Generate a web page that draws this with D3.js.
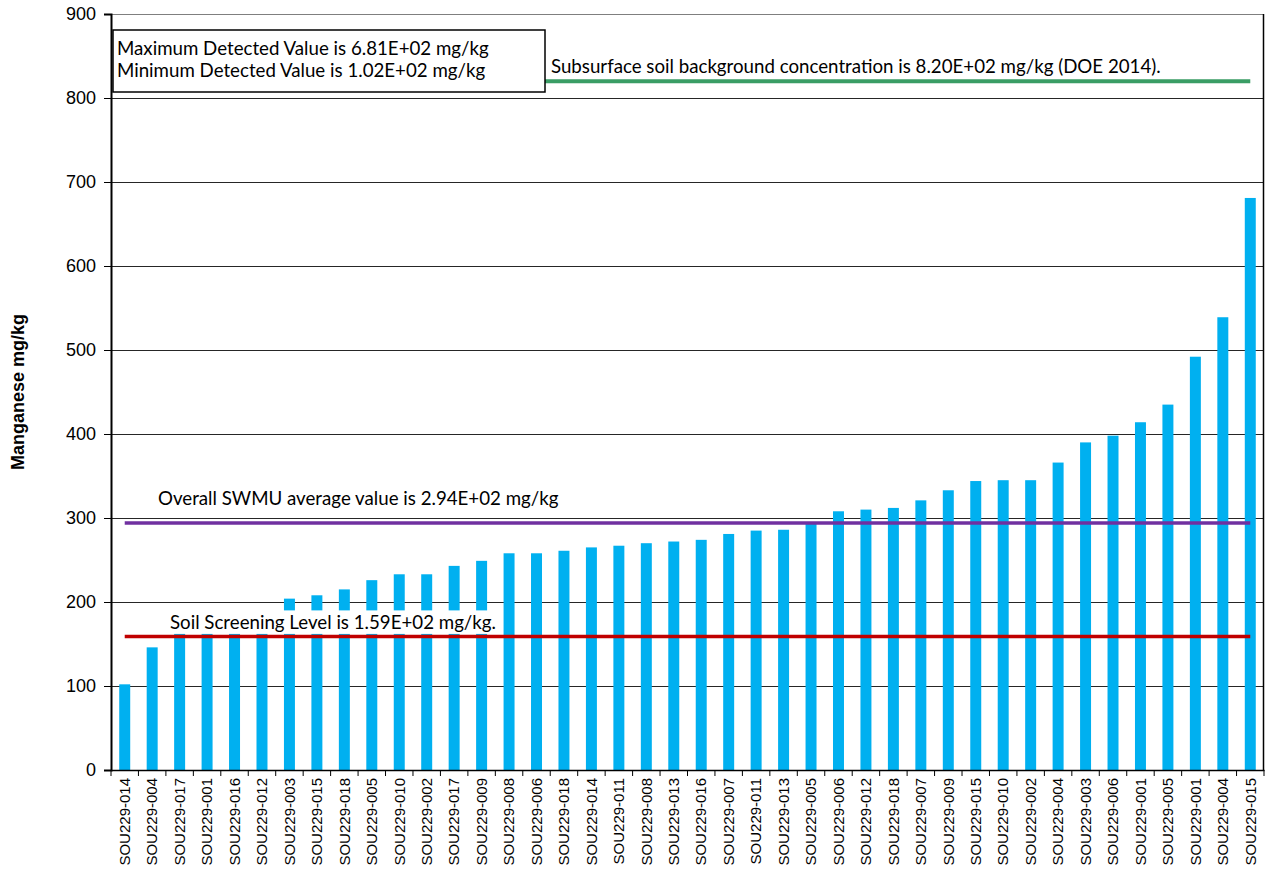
<!DOCTYPE html>
<html>
<head>
<meta charset="utf-8">
<script src="https://cdn.jsdelivr.net/npm/d3@7"></script>
<style>
  body { margin: 0; background: #fff; }
  svg { display: block; }
</style>
</head>
<body>
<div id="chart"></div>
<script>
// Sample locations, sorted by result
const locations = [
  "SOU229-014", "SOU229-004", "SOU229-017", "SOU229-001", "SOU229-016", "SOU229-012",
  "SOU229-003", "SOU229-015", "SOU229-018", "SOU229-005", "SOU229-010", "SOU229-002",
  "SOU229-017", "SOU229-009", "SOU229-008", "SOU229-006", "SOU229-018", "SOU229-014",
  "SOU229-011", "SOU229-008", "SOU229-013", "SOU229-016", "SOU229-007", "SOU229-011",
  "SOU229-013", "SOU229-005", "SOU229-006", "SOU229-012", "SOU229-018", "SOU229-007",
  "SOU229-009", "SOU229-015", "SOU229-010", "SOU229-002", "SOU229-004", "SOU229-003",
  "SOU229-006", "SOU229-001", "SOU229-005", "SOU229-001", "SOU229-004", "SOU229-015"
];

// Manganese results (mg/kg)
const results = [
  102, 146, 166, 172, 178, 185,
  204, 208, 215, 226, 233, 233,
  243, 249, 258, 258, 261, 265,
  267, 270, 272, 274, 281, 285,
  286, 295, 308, 310, 312, 321,
  333, 344, 345, 345, 366, 390,
  398, 414, 435, 492, 539, 681
];

const yTicks = [0, 100, 200, 300, 400, 500, 600, 700, 800, 900];

// Reference lines
const backgroundLevel = 820;
const swmuAverage = 294;
const screeningLevel = 159;

const BAR_COLOR = "#00B0F0";
const BG_COLOR = "#3A9D65";
const AVG_COLOR = "#7030A0";
const SSL_COLOR = "#C00000";

const W = 1265, H = 870;
const margin = { top: 14, right: 1, bottom: 100, left: 111 };
const width = W - margin.left - margin.right;
const height = H - margin.top - margin.bottom;

const svg = d3.select("#chart").append("svg")
  .attr("width", W)
  .attr("height", H);

const g = svg.append("g")
  .attr("transform", `translate(${margin.left},${margin.top})`);

const x = d3.scaleBand()
  .domain(d3.range(locations.length))
  .range([0, width])
  .padding(0);

const y = d3.scaleLinear()
  .domain([0, 900])
  .range([height, 0]);

const barW = x.bandwidth() * 0.4;
const cx = i => x(i) + x.bandwidth() / 2;

// gridlines
g.append("g")
  .selectAll("line")
  .data(yTicks.filter(t => t > 0))
  .enter()
  .append("line")
  .attr("x1", 0)
  .attr("x2", width)
  .attr("y1", d => Math.round(y(d)) + 0.5)
  .attr("y2", d => Math.round(y(d)) + 0.5)
  .attr("stroke", d => d === 900 ? "#7f7f7f" : "#262626")
  .attr("stroke-width", 1);

// right border
g.append("line")
  .attr("x1", width - 0.5).attr("x2", width - 0.5)
  .attr("y1", 0).attr("y2", height)
  .attr("stroke", "#000").attr("stroke-width", 1.5);

// bars
g.append("g")
  .selectAll("rect")
  .data(results)
  .enter()
  .append("rect")
  .attr("x", (d, i) => cx(i) - barW / 2)
  .attr("y", d => y(d))
  .attr("width", barW)
  .attr("height", d => height - y(d))
  .attr("fill", BAR_COLOR);

const annoFont = "Lato, 'Open Sans', sans-serif";
const annoSize = "18.7px";

function refLine(value, color, sw) {
  g.append("line")
    .attr("x1", cx(0))
    .attr("x2", cx(results.length - 1))
    .attr("y1", y(value))
    .attr("y2", y(value))
    .attr("stroke", color)
    .attr("stroke-width", sw);
}

function label(text, xPos, value, offset) {
  return g.append("text")
    .attr("x", xPos)
    .attr("y", y(value) + offset)
    .attr("font-family", annoFont)
    .attr("font-size", annoSize)
    .attr("fill", "#000")
    .text(text);
}

// screening level label has a white background over the bars
const sslText = label("Soil Screening Level is 1.59E+02 mg/kg.", 170 - margin.left, screeningLevel, -7);
const bb = sslText.node().getBBox();
g.insert("rect", () => sslText.node())
  .attr("x", bb.x - 5)
  .attr("y", y(190))
  .attr("width", bb.width + 10)
  .attr("height", y(162) - y(190))
  .attr("fill", "#fff");

refLine(backgroundLevel, BG_COLOR, 4);
refLine(swmuAverage, AVG_COLOR, 3.5);
refLine(screeningLevel, SSL_COLOR, 3.5);

label("Subsurface soil background concentration is 8.20E+02 mg/kg (DOE 2014).", 551 - margin.left, backgroundLevel, -8.5);
label("Overall SWMU average value is 2.94E+02 mg/kg", 158 - margin.left, swmuAverage, -18);

// max / min box
const fmtE = v => (v / 100).toFixed(2) + "E+02";
const boxG = g.append("g");
boxG.append("rect")
  .attr("x", 113 - margin.left)
  .attr("y", 30 - margin.top)
  .attr("width", 432)
  .attr("height", 62)
  .attr("fill", "#fff")
  .attr("stroke", "#000")
  .attr("stroke-width", 1.5);
boxG.append("text")
  .attr("x", 117 - margin.left)
  .attr("y", 55 - margin.top)
  .attr("font-family", annoFont)
  .attr("font-size", annoSize)
  .text("Maximum Detected Value is " + fmtE(d3.max(results)) + " mg/kg");
boxG.append("text")
  .attr("x", 117 - margin.left)
  .attr("y", 77 - margin.top)
  .attr("font-family", annoFont)
  .attr("font-size", annoSize)
  .text("Minimum Detected Value is " + fmtE(d3.min(results)) + " mg/kg");

// y axis
const yAxis = g.append("g")
  .call(d3.axisLeft(y).tickValues(yTicks).tickSize(7).tickPadding(8));
yAxis.select(".domain").attr("stroke", "#000").attr("stroke-width", 2);
yAxis.selectAll(".tick line").attr("stroke", "#000");
yAxis.selectAll("text")
  .attr("font-family", "Arial, 'Liberation Sans', sans-serif")
  .attr("font-size", "18px")
  .attr("fill", "#000");

// x axis
const xAxis = g.append("g")
  .attr("transform", `translate(0,${height})`)
  .call(d3.axisBottom(x).tickSize(0).tickFormat(i => locations[i]));
xAxis.select(".domain").attr("stroke", "#000").attr("stroke-width", 1.5);
xAxis.selectAll("text")
  .attr("font-family", "Arial, 'Liberation Sans', sans-serif")
  .attr("font-size", "15px")
  .attr("fill", "#000")
  .attr("text-anchor", "end")
  .attr("transform", "rotate(-90)")
  .attr("x", -8)
  .attr("y", 0)
  .attr("dy", "0.35em");

// category boundary ticks
xAxis.append("g")
  .selectAll("line")
  .data(d3.range(locations.length + 1))
  .enter()
  .append("line")
  .attr("x1", i => i * x.step())
  .attr("x2", i => i * x.step())
  .attr("y1", 0)
  .attr("y2", 6)
  .attr("stroke", "#000");

// y title
svg.append("text")
  .attr("transform", `translate(24,${margin.top + height / 2}) rotate(-90)`)
  .attr("text-anchor", "middle")
  .attr("font-family", "Arial, 'Liberation Sans', sans-serif")
  .attr("font-size", "18px")
  .attr("font-weight", "bold")
  .text("Manganese mg/kg");
</script>
</body>
</html>
